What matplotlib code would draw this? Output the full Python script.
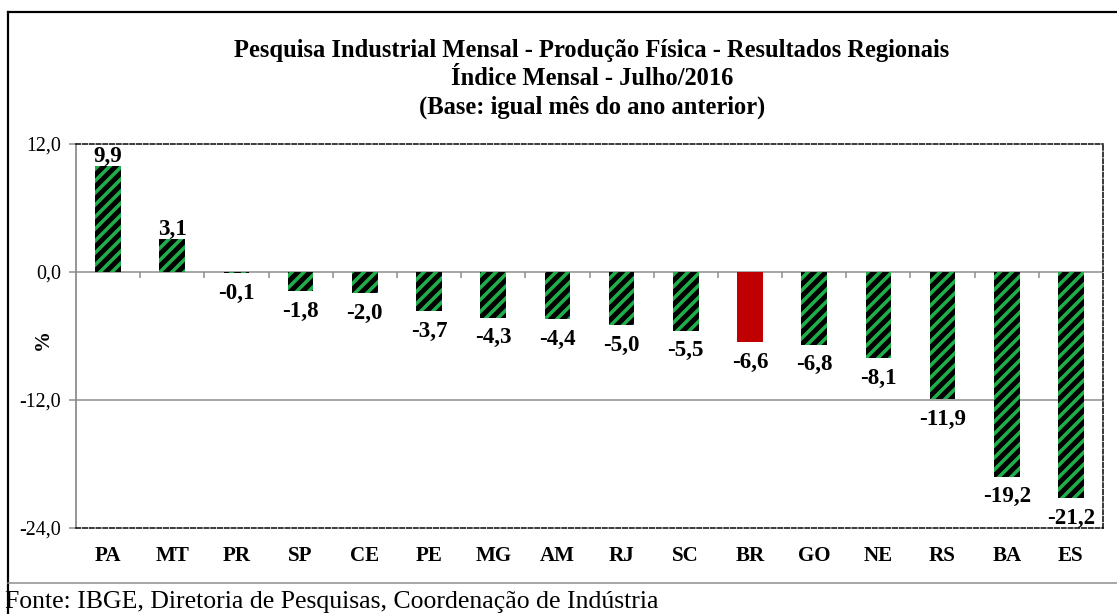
import matplotlib
matplotlib.use("Agg")
import matplotlib.pyplot as plt
import numpy as np

# data
regions = ["PA", "MT", "PR", "SP", "CE", "PE", "MG", "AM", "RJ", "SC",
           "BR", "GO", "NE", "RS", "BA", "ES"]
values = [9.9, 3.1, -0.1, -1.8, -2.0, -3.7, -4.3, -4.4, -5.0, -5.5,
          -6.6, -6.8, -8.1, -11.9, -19.2, -21.2]
highlight = "BR"
yticks = [-24, -12, 0, 12]

title = ("Pesquisa Industrial Mensal - Produção Física - Resultados Regionais\n"
         "Índice Mensal - Julho/2016\n"
         "(Base: igual mês do ano anterior)")
source = "Fonte: IBGE, Diretoria de Pesquisas, Coordenação de Indústria"

GREEN = "#20b04b"
RED = "#c00000"
GRAY = "#8c8c8c"

plt.rcParams["font.family"] = ["Liberation Serif", "DejaVu Serif"]
plt.rcParams["hatch.linewidth"] = 3.5

DPI = 72
W, H = 1117, 614
fig = plt.figure(figsize=(W / DPI, H / DPI), dpi=DPI)

# outer frame and the separator above the source line
fig.add_artist(plt.Line2D([8 / W, 8 / W], [0, 1 - 12 / H], color="black", lw=2.2))
fig.add_artist(plt.Line2D([8 / W, 1], [1 - 12 / H, 1 - 12 / H], color="black", lw=2.2))
fig.add_artist(plt.Line2D([8 / W, 1], [1 - 583 / H, 1 - 583 / H], color=GRAY, lw=1.5))

ax = fig.add_axes([76 / W, 1 - 528 / H, (1103 - 76) / W, (528 - 144) / H])

x = np.arange(len(regions))
for xi, region, v in zip(x, regions, values):
    if region == highlight:
        ax.bar(xi, v, width=0.4, color=RED, zorder=3)
    else:
        ax.bar(xi, v, width=0.4, facecolor="black", edgecolor=GREEN,
               hatch="//", linewidth=0, zorder=3)
    label = f"{v:.1f}".replace(".", ",")
    if v >= 0:
        ax.text(xi, v - 0.1, label, ha="center", va="bottom",
                fontsize=23, fontweight="bold", zorder=4)
    else:
        ax.text(xi, v - 0.9, label, ha="center", va="top",
                fontsize=23, fontweight="bold", zorder=4)

ax.set_xlim(-0.5, len(regions) - 0.5)
ax.set_ylim(yticks[0], yticks[-1])

# horizontal gridlines at 0 and -12
for yv in yticks[1:-1]:
    ax.axhline(yv, color=GRAY, lw=1.5, zorder=1)
# small tick marks hanging from the zero line between categories
ax.vlines(x[:-1] + 0.5, 0, -0.6, color=GRAY, lw=1.5, zorder=1)

ax.set_yticks(yticks)
ax.set_yticklabels([f"{t:.1f}".replace(".", ",") for t in yticks], fontsize=20)
ax.tick_params(axis="y", length=7, width=1.5, color=GRAY, pad=8)
ax.set_xticks(x)
ax.set_xticklabels(regions, fontsize=21, fontweight="bold")
ax.tick_params(axis="x", length=0, pad=18)

ax.spines["left"].set_color(GRAY)
ax.spines["left"].set_linewidth(1.8)
for side in ["top", "right", "bottom"]:
    ax.spines[side].set_linestyle((0, (3, 1.5)))
    ax.spines[side].set_linewidth(1.5)
    ax.spines[side].set_color("black")

ax.set_ylabel("%", fontsize=21, fontweight="bold")
ax.yaxis.set_label_coords(-0.023, 0.49)

fig.text(592 / W, 1 - 79 / H, title, ha="center", va="center",
         fontsize=24.5, fontweight="bold", linespacing=1.3)
fig.text(5 / W, 1 - 602 / H, source, ha="left", va="center", fontsize=25.7)

fig.savefig("out.png", dpi=DPI)
